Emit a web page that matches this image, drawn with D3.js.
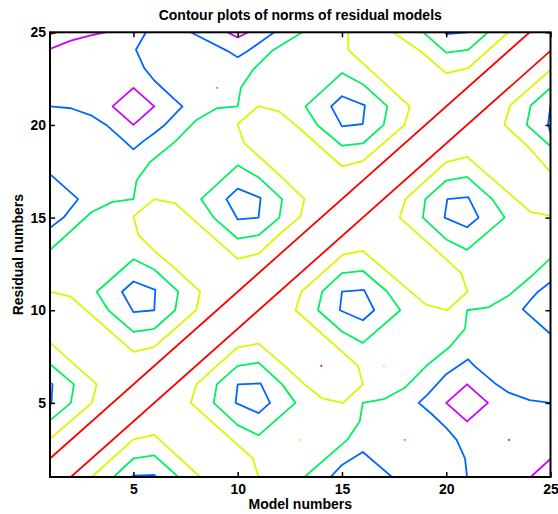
<!DOCTYPE html>
<html lang="en">
<head>
<meta charset="UTF-8">
<title>Contour plots of norms of residual models</title>
<script src="https://cdnjs.cloudflare.com/ajax/libs/d3/7.8.5/d3.min.js"></script>
<style>
    body { margin: 0; background: #fff; }
    svg { display: block; font-family: "Liberation Sans", Arial, Helvetica, sans-serif; }
    .tick text { font-size: 14px; font-weight: bold; fill: #000; }
    .tick line { stroke: #000; stroke-width: 1.5; }
    .contour { fill: none; stroke-width: 1.8; stroke-linejoin: round; stroke-linecap: round; }
</style>
</head>
<body>
<div id="chart"></div>
<script>
    // axis ticks
    const xTicks = [5, 10, 15, 20, 25];
    const yTicks = [5, 10, 15, 20, 25];

    // contour lines, [model, residual] pairs, grouped by level
    const redLines = [
        [[1, 2], [24, 25]],
        [[2, 1], [25, 24]],
        [[1, 24.9], [1.3, 25]]
    ];

    const yellowLines = [
        [[1, 11], [2, 10.73], [5, 7.75], [6, 8.02], [7, 9], [8, 10], [8.2, 11], [7, 12.25], [6, 13.2], [5.24, 14.06],
         [5, 15.05], [6, 16], [7, 15.77], [10, 12.77], [11, 13.05], [12, 14.1], [13, 15.05], [13.2, 16], [12, 17.3],
         [10.3, 19.03], [10, 20.05], [11, 21.02], [12, 20.72], [13, 19.78], [15, 17.77], [16, 18.05], [18, 20],
         [18.25, 21], [15.3, 24.05], [15.3, 25]],
        [[11, 1], [10.73, 2], [7.75, 5], [8.02, 6], [9, 7], [10, 8], [11, 8.2], [12.25, 7], [13.2, 6], [14.06, 5.24],
         [15.05, 5], [16, 6], [15.77, 7], [12.77, 10], [13.05, 11], [14.05, 12], [15.05, 13], [16, 13.2], [17.25, 12],
         [19.03, 10.3], [20.05, 10], [21.02, 11], [20.72, 12], [19.75, 13], [17.77, 15], [18.05, 16], [20, 18],
         [21, 18.28], [24.05, 15.3], [25, 15.1]],
        [[1, 8.25], [3.24, 6], [3, 5], [1, 3.05]],
        [[3, 1], [5, 3.03], [6, 3.27], [8.2, 1]],
        [[17.45, 25], [18.8, 23.95], [20, 22.79], [21.05, 23.06], [22.97, 25]],
        [[25, 22.97], [23.06, 21.05], [22.79, 20], [23.95, 18.8], [25, 17.45]]
    ];

    const greenLines = [
        [[5, 12.75], [6, 12.2], [7.15, 11], [7, 10], [6, 9], [5, 8.83], [3.8, 10], [3.24, 11], [5, 12.75]],
        [[10, 17.82], [11, 17.17], [12.13, 16], [12, 15], [11, 14.05], [10, 13.86], [8.85, 15], [8.24, 16], [10, 17.82]],
        [[15, 22.8], [16, 22.2], [17.18, 21], [17, 20], [16, 19], [15, 18.88], [13.82, 20], [13.25, 21], [15, 22.8]],
        [[12.77, 5], [12.13, 6], [11, 7.17], [10, 7], [9, 6], [8.85, 5], [10, 3.8], [11, 3.25], [12.77, 5]],
        [[17.8, 10], [17.17, 11], [16, 12.13], [15, 12], [14.05, 11], [13.85, 10], [15, 8.85], [16, 8.24], [17.8, 10]],
        [[22.8, 15], [22.2, 16], [21, 17.2], [20, 17], [19, 16], [18.88, 15], [20, 13.82], [21, 13.26], [22.8, 15]],
        [[1, 13.25], [3, 15.3], [4, 15.85], [5, 16], [5.15, 17], [5.8, 18], [7, 19.1], [8, 20.25], [9, 20.9], [10, 21],
         [10.15, 22], [10.75, 23], [11.65, 24], [13.1, 25]],
        [[13.2, 1], [15.25, 3], [15.85, 4], [16, 5], [17, 5.2], [18, 5.8], [19.05, 7], [20.15, 8], [20.9, 9], [21, 10],
         [22, 10.15], [23, 10.8], [24, 11.75], [25, 12.8]],
        [[1, 7.1], [2.15, 6], [2, 5], [1, 4.06]],
        [[4.05, 1], [5, 2], [6, 2.17], [7.15, 1]],
        [[18.9, 25], [20, 23.9], [21.05, 24.05], [22, 25]],
        [[25, 22], [24.05, 21.05], [23.86, 20], [25, 18.85]]
    ];

    const blueLines = [
        [[5, 11.55], [6.05, 11.1], [6, 10], [5, 9.9], [4.45, 11], [5, 11.55]],
        [[10, 16.56], [11.1, 16.06], [11, 15], [10, 14.9], [9.46, 16], [10, 16.56]],
        [[15, 21.55], [16.1, 21.06], [16, 20.05], [15, 19.92], [14.48, 21], [15, 21.55]],
        [[11.55, 5], [11.1, 6.05], [10, 6], [9.9, 5], [11, 4.45], [11.55, 5]],
        [[16.55, 10], [16.06, 11.1], [15, 11], [14.9, 10], [16, 9.46], [16.55, 10]],
        [[21.55, 15], [21.06, 16.1], [20.05, 16], [19.92, 15], [21, 14.48], [21.55, 15]],
        [[5.6, 25], [5.12, 24.06], [5.52, 23.07], [6, 22.4], [7, 21.35], [7.35, 21], [6.5, 20], [6, 19.55], [5.45, 19.1],
         [5, 18.68], [4.4, 19.3], [3.7, 20], [3, 20.5], [2, 20.9], [1, 21]],
        [[25, 5], [24, 5.15], [23, 5.55], [22.4, 6], [21.35, 7], [21.05, 7.35], [20, 6.55], [19.55, 6], [19.1, 5.45],
         [18.68, 5], [19.3, 4.4], [20, 3.65], [20.5, 3], [20.9, 2], [21, 1]],
        [[1, 17.35], [2.35, 16], [1.65, 15], [1, 14.45]],
        [[17.4, 1], [16, 2.35], [15, 1.65], [14.45, 1]],
        [[7.75, 25], [9.5, 24], [10, 23.65], [10.5, 24], [11.75, 25]],
        [[25, 11.52], [24.4, 11], [24, 10.5], [23.67, 10.05], [25, 8.72]],
        [[19.95, 25], [20, 24.9], [21, 25]],
        [[25, 21.05], [24.88, 20], [25, 19.6]],
        [[1, 6.1], [1.12, 6], [1.07, 5], [1, 4.9]],
        [[4.9, 1], [5, 1.07], [6, 1.12], [6.1, 1]]
    ];

    const magentaLines = [
        [[5, 22], [6, 21], [5, 20], [4, 21], [5, 22]],
        [[21, 6], [22, 5], [21, 4], [20, 5], [21, 6]],
        [[9.5, 25], [10, 24.72], [10.5, 25]],
        [[1, 24.1], [2, 24.55], [3, 24.85], [3.65, 25]],
        [[24.05, 1], [25, 1.97]]
    ];

    // single grid points that sit exactly on a level
    const dotPoints = [
        {x: 9, y: 22, level: "green"},
        {x: 14, y: 7, level: "red"},
        {x: 17, y: 7, level: "yellow"},
        {x: 13, y: 3, level: "yellow"},
        {x: 18, y: 3, level: "green"},
        {x: 23, y: 3, level: "blue"}
    ];

    const levelColor = {
        red: "#ff0000",
        yellow: "#d9f700",
        green: "#00f060",
        blue: "#0066ff",
        magenta: "#cc00ff"
    };

    const levels = [
        {name: "red", lines: redLines},
        {name: "yellow", lines: yellowLines},
        {name: "green", lines: greenLines},
        {name: "blue", lines: blueLines},
        {name: "magenta", lines: magentaLines}
    ];

    const width = 558, height = 514;
    const margin = {top: 32.3, right: 7.5, bottom: 37, left: 50};

    const svg = d3.select("#chart").append("svg")
        .attr("width", width)
        .attr("height", height);

    const x = d3.scaleLinear().domain([1, 25]).range([margin.left, width - margin.right]);
    const y = d3.scaleLinear().domain([1, 25]).range([height - margin.bottom, margin.top]);

    svg.append("clipPath").attr("id", "plot-clip")
        .append("rect")
        .attr("x", margin.left).attr("y", margin.top)
        .attr("width", x(25) - x(1)).attr("height", y(1) - y(25));

    const line = d3.line().x(d => x(d[0])).y(d => y(d[1]));

    const plot = svg.append("g").attr("clip-path", "url(#plot-clip)");

    levels.forEach(lv => {
        plot.append("g")
            .selectAll("path")
            .data(lv.lines)
            .enter().append("path")
            .attr("class", "contour")
            .attr("stroke", levelColor[lv.name])
            .attr("d", line);
    });

    plot.append("g")
        .selectAll("path")
        .data(dotPoints)
        .enter().append("path")
        .attr("class", "contour")
        .attr("stroke", d => levelColor[d.level])
        .attr("d", d => line([[d.x, d.y], [d.x + 0.02, d.y]]));

    // axes, ticks pointing inward on all four sides
    svg.append("g")
        .attr("transform", `translate(0,${y(1)})`)
        .call(d3.axisBottom(x).tickValues(xTicks).tickSizeInner(-5).tickSizeOuter(0).tickPadding(7))
        .call(g => g.select(".domain").remove());

    svg.append("g")
        .attr("transform", `translate(${x(1)},0)`)
        .call(d3.axisLeft(y).tickValues(yTicks).tickSizeInner(-5).tickSizeOuter(0).tickPadding(4))
        .call(g => g.select(".domain").remove());

    svg.append("g")
        .attr("transform", `translate(0,${y(25)})`)
        .call(d3.axisTop(x).tickValues(xTicks).tickSizeInner(-5).tickSizeOuter(0).tickFormat(""))
        .call(g => g.select(".domain").remove());

    svg.append("g")
        .attr("transform", `translate(${x(25)},0)`)
        .call(d3.axisRight(y).tickValues(yTicks).tickSizeInner(-5).tickSizeOuter(0).tickFormat(""))
        .call(g => g.select(".domain").remove());

    svg.selectAll(".tick text").attr("font-family", null).attr("font-size", null);

    svg.append("rect")
        .attr("x", x(1)).attr("y", y(25))
        .attr("width", x(25) - x(1)).attr("height", y(1) - y(25))
        .attr("fill", "none")
        .attr("stroke", "#000")
        .attr("stroke-width", 2);

    svg.append("text")
        .attr("x", (x(1) + x(25)) / 2)
        .attr("y", 20)
        .attr("text-anchor", "middle")
        .attr("font-size", 14)
        .attr("font-weight", "bold")
        .text("Contour plots of norms of residual models");

    svg.append("text")
        .attr("x", (x(1) + x(25)) / 2)
        .attr("y", 509)
        .attr("text-anchor", "middle")
        .attr("font-size", 14)
        .attr("font-weight", "bold")
        .text("Model numbers");

    svg.append("text")
        .attr("transform", `translate(22.5,${(y(1) + y(25)) / 2}) rotate(-90)`)
        .attr("text-anchor", "middle")
        .attr("font-size", 14)
        .attr("font-weight", "bold")
        .text("Residual numbers");
</script>
</body>
</html>
